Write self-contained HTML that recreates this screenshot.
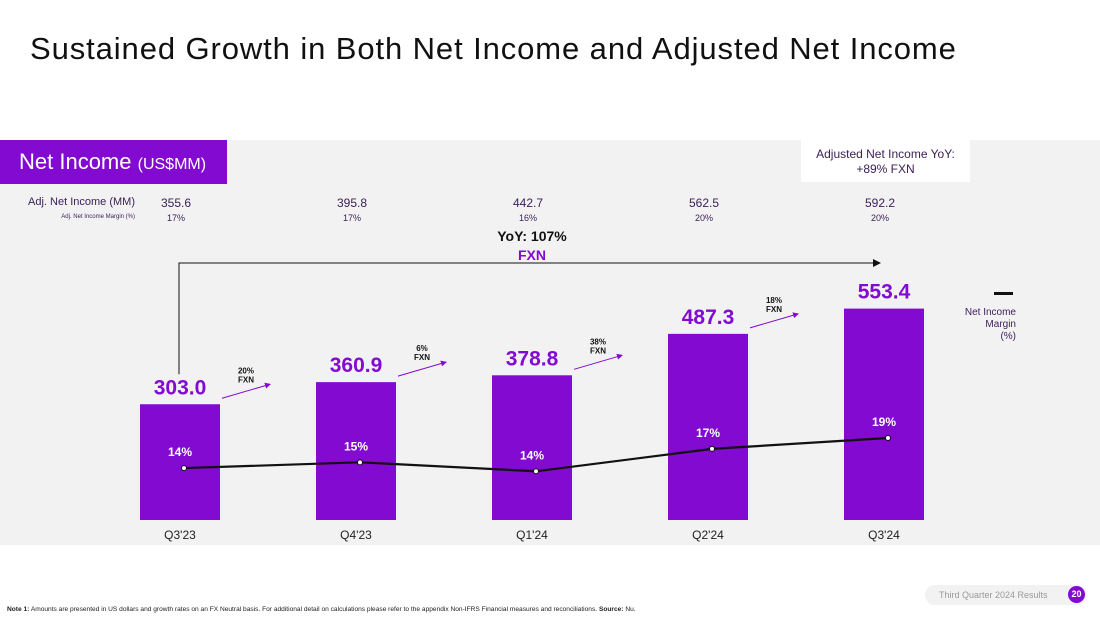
<!DOCTYPE html>
<html><head><meta charset="utf-8"><style>
body{margin:0;width:1100px;height:619px;background:#fff;font-family:"Liberation Sans",sans-serif;overflow:hidden;position:relative}
.abs{position:absolute}
</style></head><body>
<div class="abs" style="left:30px;top:31px;font-size:31px;letter-spacing:0.9px;color:#111">Sustained Growth in Both Net Income and Adjusted Net Income</div>
<div class="abs" style="left:0;top:140px;width:1100px;height:405px;background:#f2f2f2"></div>
<div class="abs" style="left:0;top:140px;width:227px;height:44px;background:#820ad1;color:#fff;font-size:22px;line-height:44px;padding-left:19px;box-sizing:border-box">Net Income <span style="font-size:16px">(US$MM)</span></div>
<div class="abs" style="left:801px;top:140px;width:169px;height:42px;background:#fff;color:#3a1d57;font-size:12px;text-align:center;line-height:15px;padding-top:7px;box-sizing:border-box">Adjusted Net Income YoY:<br>+89% FXN</div>
<div class="abs" style="left:20px;top:196px;width:115px;text-align:right;font-size:11px;color:#3a1d57">Adj. Net Income (MM)</div>
<div class="abs" style="left:20px;top:214px;width:115px;text-align:right;font-size:6px;color:#3a1d57">Adj. Net Income Margin (%)</div>
<div class="abs" style="left:462px;top:228px;width:140px;text-align:center;font-size:14px;font-weight:bold;color:#111">YoY: 107%</div>
<div class="abs" style="left:462px;top:247px;width:140px;text-align:center;font-size:14px;font-weight:bold;color:#820ad1">FXN</div>
<div class="abs" style="left:994px;top:292px;width:19px;height:3px;background:#111"></div>
<div class="abs" style="left:930px;top:307px;width:86px;text-align:right;font-size:10px;line-height:12px;color:#3a1d57">Net Income<br>Margin<br>(%)</div>
<div class="abs" style="left:7px;top:606px;font-size:6.6px;color:#222;white-space:nowrap"><b>Note 1:</b> Amounts are presented in US dollars and growth rates on an FX Neutral basis. For additional detail on calculations please refer to the appendix Non-IFRS Financial measures and reconciliations. <b>Source:</b> Nu.</div>
<div class="abs" style="left:925px;top:585px;width:162px;height:20px;border-radius:10px;background:#f2f2f2;font-size:9px;color:#999;line-height:20px;padding-left:14px;box-sizing:border-box">Third Quarter 2024 Results</div>
<div class="abs" style="left:1068px;top:586px;width:17px;height:17px;border-radius:50%;background:#820ad1;color:#fff;font-size:9px;font-weight:bold;text-align:center;line-height:17px">20</div>
<svg class="abs" style="left:0;top:0" width="1100" height="619" id="chart"></svg>
<script>
const categories=["Q3'23","Q4'23","Q1'24","Q2'24","Q3'24"];
const netIncome=[303.0,360.9,378.8,487.3,553.4];
const margin=[14.3,15.2,13.8,17.3,19.0];
const marginLabels=["14%","15%","14%","17%","19%"];
const adjNetIncome=["355.6","395.8","442.7","562.5","592.2"];
const adjMargin=["17%","17%","16%","20%","20%"];
const growth=["20%","6%","38%","18%"];
const svg=document.getElementById('chart');
const NS='http://www.w3.org/2000/svg';
function mk(t,a,txt){const e=document.createElementNS(NS,t);for(const k in a)e.setAttribute(k,a[k]);if(txt!=null)e.textContent=txt;svg.appendChild(e);return e;}
const xC=i=>180+i*176;
const yV=v=>520-v*0.382;
const yM=m=>557.6-m*6.4;
const bw=80;
mk('defs',{}).innerHTML='<marker id="ah" markerWidth="8" markerHeight="8" refX="7" refY="4" orient="auto"><path d="M0,0 L8,4 L0,8z" fill="#111"/></marker><marker id="ap" markerWidth="6" markerHeight="6" refX="5" refY="3" orient="auto"><path d="M0,0 L6,3 L0,6z" fill="#820ad1"/></marker>';
categories.forEach((c,i)=>{
 const x=xC(i);
 let r=mk('rect',{x:x-bw/2,y:yV(netIncome[i]),width:bw,height:520-yV(netIncome[i]),fill:'#820ad1'});
 
 
 let t=mk('text',{x:x,y:yV(netIncome[i])-10,'text-anchor':'middle','font-size':21,'font-weight':'bold',fill:'#820ad1'},netIncome[i].toFixed(1));
 
 
 t=mk('text',{x:x,y:yM(margin[i])-10,'text-anchor':'middle','font-size':12,'font-weight':'bold',fill:'#fff'},marginLabels[i]);
 
 
 t=mk('text',{x:x,y:539,'text-anchor':'middle','font-size':12,fill:'#222'},c);
 
 
 t=mk('text',{x:x-4,y:207,'text-anchor':'middle','font-size':12,fill:'#3a1d57'},adjNetIncome[i]);
 
 
 t=mk('text',{x:x-4,y:221,'text-anchor':'middle','font-size':9,fill:'#3a1d57'},adjMargin[i]);
 
 
});
growth.forEach((g,i)=>{
 const x=xC(i)+88;
 let a=mk('line',{x1:x-46,y1:yV(netIncome[i])-6,x2:x+2,y2:yV(netIncome[i])-20,stroke:'#820ad1','stroke-width':1,'marker-end':'url(#ap)'});
 
 
 let t=mk('text',{x:x-22,y:yV(netIncome[i])-31,'text-anchor':'middle','font-size':8,'font-weight':'bold',fill:'#111'},g);
 
 
 t=mk('text',{x:x-22,y:yV(netIncome[i])-22,'text-anchor':'middle','font-size':8,'font-weight':'bold',fill:'#111'},'FXN');
 
 
});
let br=mk('path',{d:`M${xC(0)-1},${yV(netIncome[0])-30} V263 H${xC(4)-4}`,fill:'none',stroke:'#111','stroke-width':1,'marker-end':'url(#ah)'});


let pl=mk('polyline',{points:margin.map((m,i)=>xC(i)+4+','+(yM(m)+2)).join(' '),fill:'none',stroke:'#111','stroke-width':2.2});


margin.forEach((m,i)=>{
 const p=mk('circle',{cx:xC(i)+4,cy:yM(m)+2,r:2.5,fill:'#fff',stroke:'#111','stroke-width':1});
 
 
});
</script>
</body></html>
